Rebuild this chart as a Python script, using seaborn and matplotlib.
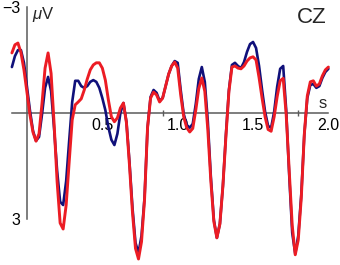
import numpy as np
import seaborn as sns
import matplotlib
matplotlib.use("Agg")
from matplotlib import pyplot as plt

# ERP at CZ, two conditions, µV (negative up), sampled every 20 ms from -0.1 s to 2.0 s
blue_uv = [-1.30, -1.61, -1.78, -1.78, -1.42, -0.74, -0.06, 0.51, 0.79, 0.68,
           0.03, -0.71, -1.02, -0.62, 0.45, 1.64, 2.52, 2.61, 1.93, 0.79,
           -0.31, -0.91, -0.91, -0.76, -0.71, -0.76, -0.88, -0.93, -0.88, -0.71,
           -0.42, -0.08, 0.40, 0.76, 0.91, 0.59, 0.00, -0.28, 0.25, 1.39,
           2.69, 3.68, 3.97, 3.48, 2.41, 0.42, -0.45, -0.65, -0.57, -0.34,
           -0.42, -0.76, -1.10, -1.33, -1.47, -1.42, -0.65, 0.03, 0.34, 0.42,
           0.31, -0.25, -0.96, -1.30, -0.88, 0.25, 1.81, 3.03, 3.54, 3.14,
           2.07, 0.62, -0.65, -1.36, -1.42, -1.33, -1.27, -1.44, -1.73, -1.95,
           -2.01, -1.84, -1.33, -0.65, -0.03, 0.37, 0.42, -0.03, -0.74, -1.25,
           -1.33, -0.08, 1.76, 3.40, 3.99, 3.48, 2.32, 0.62, -0.42, -0.79,
           -0.82, -0.71, -0.76, -0.99, -1.16, -1.25]
red_uv = [-1.70, -1.93, -1.98, -1.71, -1.22, -0.58, 0.06, 0.55, 0.80, 0.59,
          -0.28, -1.27, -1.70, -1.12, 0.31, 1.95, 3.12, 3.29, 2.61, 1.39,
          0.20, -0.23, -0.31, -0.40, -0.65, -0.96, -1.22, -1.36, -1.42, -1.42,
          -1.27, -0.93, -0.37, 0.11, 0.25, 0.14, -0.14, -0.28, 0.28, 1.47,
          2.82, 3.84, 4.14, 3.65, 2.46, 0.42, -0.42, -0.59, -0.51, -0.31,
          -0.42, -0.76, -1.10, -1.33, -1.44, -1.27, -0.51, 0.11, 0.42, 0.54,
          0.44, -0.08, -0.69, -0.99, -0.61, 0.48, 1.93, 3.08, 3.54, 3.15,
          2.07, 0.67, -0.61, -1.30, -1.33, -1.27, -1.25, -1.33, -1.47, -1.56,
          -1.59, -1.50, -1.00, -0.42, 0.11, 0.47, 0.52, 0.11, -0.46, -0.91,
          -0.98, 0.05, 1.64, 3.19, 4.02, 3.60, 2.41, 0.62, -0.48, -0.88,
          -0.91, -0.76, -0.82, -1.05, -1.22, -1.30]
time_s = np.linspace(-0.1, 2.0, len(blue_uv))

x_ticks = [0.5, 1.0, 1.5, 2.0]
x_tick_labels = ['0.5', '1.0', '1.5', '2.0']
x_marks = [0.9, 1.8]
y_ticks = [-3, 3]
y_tick_labels = ['\u22123', '3']

sns.set_theme(style="white")
plt.rcParams['font.family'] = ['Liberation Sans', 'DejaVu Sans']
plt.rcParams['mathtext.fontset'] = 'custom'
plt.rcParams['mathtext.rm'] = 'Liberation Sans'
plt.rcParams['mathtext.it'] = 'Liberation Sans:italic'

fig = plt.figure(figsize=(3.4, 2.65), dpi=100)
ax = fig.add_axes([0, 0, 1, 1])
ax.patch.set_alpha(0)

sns.lineplot(x=time_s, y=blue_uv, color='#10107a', lw=1.9, ax=ax)
sns.lineplot(x=time_s, y=red_uv, color='#ec1c24', lw=2.1, ax=ax)
for ln in ax.lines:
    ln.set_solid_joinstyle('round')

ax.set_xlim(-0.179, 2.077)
ax.set_ylim(4.31, -3.20)

axis_col = '#5a5a5a'
for side in ['top', 'right']:
    ax.spines[side].set_visible(False)
ax.spines['left'].set_position(('data', 0))
ax.spines['left'].set_bounds(-3, 3)
ax.spines['bottom'].set_position(('data', 0))
ax.spines['bottom'].set_bounds(-0.1, 2.0)
for side in ['left', 'bottom']:
    ax.spines[side].set_color(axis_col)
    ax.spines[side].set_linewidth(1.1)
    ax.spines[side].set_zorder(0)

ax.set_xticks(x_ticks)
ax.set_xticklabels(x_tick_labels)
ax.set_xticks(x_marks, minor=True)
ax.set_yticks(y_ticks)
ax.set_yticklabels(y_tick_labels)
ax.tick_params(axis='both', which='both', direction='inout', length=5, width=1.0,
               color=axis_col, labelsize=11.5, labelcolor='black')
ax.tick_params(axis='x', pad=1.5)
ax.tick_params(axis='y', pad=2)
ax.tick_params(axis='both', which='minor', bottom=True, length=5)
ax.set_xlabel('')
ax.set_ylabel('')

ax.text(0.033, -2.66, r'$\mu$V', fontsize=12, ha='left', va='baseline')
ax.text(1.964, -0.13, 's', fontsize=12, ha='center', va='baseline')
ax.text(1.89, -2.55, 'CZ', fontsize=16, ha='center', va='baseline')

fig.savefig('out.png', dpi=100)
